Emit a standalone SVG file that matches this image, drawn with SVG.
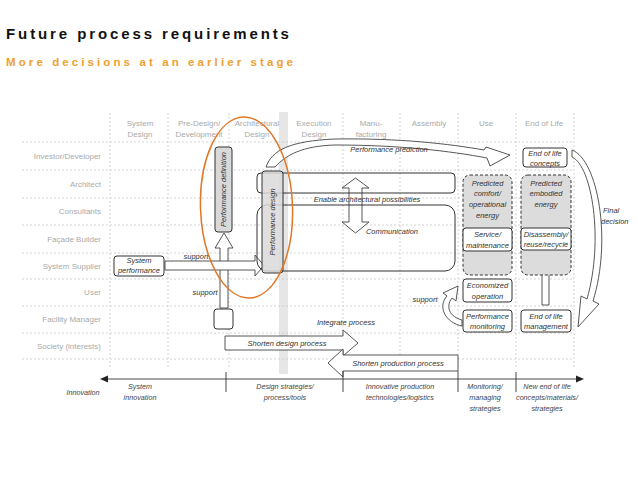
<svg xmlns="http://www.w3.org/2000/svg" width="638" height="479" viewBox="0 0 638 479">
<defs>
<style>
.title{font-family:"Liberation Sans",Arial,sans-serif;font-weight:bold;font-size:15px;letter-spacing:2.9px;fill:#111}
.sub{font-family:"Liberation Sans",Arial,sans-serif;font-weight:bold;font-size:11.5px;letter-spacing:3.1px;fill:#f0a030}
.hdr{font-family:"Liberation Sans",Arial,sans-serif;font-size:8px;fill:#aaa;text-anchor:middle}
.row{font-family:"Liberation Sans",Arial,sans-serif;font-size:8px;fill:#aaa;text-anchor:end}
.lbl{font-family:"Liberation Sans",Arial,sans-serif;font-style:italic;font-size:7.5px;fill:#333;text-anchor:middle}
.ax{font-family:"Liberation Sans",Arial,sans-serif;font-style:italic;font-size:7.2px;fill:#444;text-anchor:middle}
.grid{stroke:#c8c8c8;stroke-width:0.8;stroke-dasharray:2,2;fill:none}
.box{fill:#fff;stroke:#333;stroke-width:1}
.gbox{fill:#d9d9d9;stroke:#333;stroke-width:1}
.dbox{fill:#dcdcdc;stroke:#333;stroke-width:1;stroke-dasharray:3,2}
.harrow{fill:#fff;stroke:#444;stroke-width:0.9}
</style>
</defs>
<rect width="638" height="479" fill="#fff"/>
<text class="title" x="6" y="39">Future process requirements</text>
<text class="sub" x="6" y="66">More decisions at an earlier stage</text>

<g id="grid">
<rect x="279" y="112" width="9" height="262" fill="#e6e6e6"/>
<path class="grid" d="M22 142H574M22 170H574M22 198H574M22 225H574M22 253H574M22 279H574M22 306H574M22 333H574M22 359H574"/>
<path class="grid" d="M110 113V368M168 113V368M229 113V368M343 113V368M400 113V368M458 113V368M516 113V368M574 113V368"/>
</g>

<g id="headers">
<text class="hdr" x="140" y="126">System</text><text class="hdr" x="140" y="137">Design</text>
<text class="hdr" x="199" y="126">Pre-Design/</text><text class="hdr" x="199" y="137">Development</text>
<text class="hdr" x="257" y="126">Architectural</text><text class="hdr" x="257" y="137">Design</text>
<text class="hdr" x="314" y="126">Execution</text><text class="hdr" x="314" y="137">Design</text>
<text class="hdr" x="371" y="126">Manu-</text><text class="hdr" x="371" y="137">facturing</text>
<text class="hdr" x="429" y="126">Assembly</text>
<text class="hdr" x="486" y="126">Use</text>
<text class="hdr" x="544" y="126">End of Life</text>
</g>

<g id="rows">
<text class="row" x="101" y="159">Investor/Developer</text>
<text class="row" x="101" y="187">Architect</text>
<text class="row" x="101" y="214">Consultants</text>
<text class="row" x="101" y="242">Façade Builder</text>
<text class="row" x="101" y="269">System Supplier</text>
<text class="row" x="101" y="295">User</text>
<text class="row" x="101" y="322">Facility Manager</text>
<text class="row" x="101" y="349">Society (interests)</text>
</g>

<g id="connectors">
<path class="harrow" d="M266,167 C272,150 290,141 335,139 C400,138 450,144 484,150 L486,147 L510,155 L490,166 L487,158 C450,151 400,145 335,145 C302,146 286,155 275,167 Z"/>
<path class="harrow" d="M572,150 C598,160 612,240 593,301 L599,304 L578,327 L581,296 L587,299 C604,240 592,166 572,157 Z"/>
<path class="harrow" d="M220,308 L220,248 L215,248 L224,233 L233,248 L228,248 L228,308 Z"/>
<path class="harrow" d="M165,261 L255,261 L255,255 L264,265.5 L255,276 L255,270 L165,270 Z"/>
<path class="harrow" d="M349,188 L342,188 L355.5,178 L369,188 L362,188 L362,222 L369,222 L355.5,233 L342,222 L349,222 Z"/>
<path class="harrow" d="M542,305 L542,262 L536,262 L545.5,252 L555,262 L549,262 L549,305 Z"/>
<path class="harrow" d="M462,326 C446,323 437,307 447,296 L443,293 L458,286 L456,301 L452,298 C445,307 450,317 462,320 Z"/>
<path class="harrow" d="M225,336 L343,336 L343,330 L358,343 L343,356 L343,350 L225,350 Z"/>
<path class="harrow" d="M458,355 L343,355 L343,349 L328,363 L343,377 L343,371 L458,371 Z"/>
<g stroke="#333" stroke-width="0.9" fill="none">
<path d="M106,379H578"/>
<path d="M226,372V392M343,371V392M458,371V392M516,372V392"/>
</g>
<path d="M100,379 L108,375.5 L108,382.5 Z" fill="#222"/>
<path d="M584,379 L576,375.5 L576,382.5 Z" fill="#222"/>
</g>

<g id="enable">
<rect class="box" x="257" y="173" width="198" height="20" rx="4" style="fill:none"/>
<text class="lbl" x="367" y="202">Enable architectural possibilities</text>
</g>
<g id="communication">
<rect class="box" x="257" y="205" width="198" height="66" rx="10" style="fill:none"/>
<text class="lbl" x="392" y="234">Communication</text>
</g>

<g id="perf-definition">
<rect class="gbox" x="215" y="147" width="17" height="85" rx="3"/>
<text class="lbl" transform="translate(226,189.5) rotate(-90)">Performance definition</text>
</g>
<g id="perf-design">
<rect class="gbox" x="262" y="171" width="21" height="102" rx="3" style="fill-opacity:0.85"/>
<text class="lbl" transform="translate(275,222) rotate(-90)">Performance design</text>
</g>
<g id="small-box">
<rect class="box" x="214" y="309" width="19" height="20" rx="3"/>
</g>
<g id="system-performance">
<rect class="box" x="114" y="256" width="50" height="20" rx="3"/>
<text class="lbl" x="139" y="263">System</text>
<text class="lbl" x="139" y="273">performance</text>
</g>

<g id="labels">
<text class="lbl" x="196" y="259">support</text>
<text class="lbl" x="205" y="295">support</text>
<text class="lbl" x="425" y="302">support</text>
<text class="lbl" x="389" y="152">Performance prediction</text>
<text class="lbl" x="346" y="325">Integrate process</text>
<text class="lbl" x="287" y="346">Shorten design process</text>
<text class="lbl" x="398" y="366">Shorten production process</text>
<text class="lbl" x="603" y="213" style="text-anchor:start">Final</text>
<text class="lbl" x="601" y="224" style="text-anchor:start">decision</text>
</g>

<g id="predicted-comfort">
<rect class="dbox" x="463" y="175" width="49" height="100" rx="7"/>
<text class="lbl" x="487.5" y="186">Predicted</text>
<text class="lbl" x="487.5" y="196">comfort/</text>
<text class="lbl" x="487.5" y="207">operational</text>
<text class="lbl" x="487.5" y="218">energy</text>
</g>
<g id="predicted-embodied">
<rect class="dbox" x="521" y="175" width="50" height="100" rx="7"/>
<text class="lbl" x="546" y="186">Predicted</text>
<text class="lbl" x="546" y="196">embodied</text>
<text class="lbl" x="546" y="207">energy</text>
</g>
<g id="service">
<rect class="box" x="463" y="228" width="49" height="23" rx="3"/>
<text class="lbl" x="487.5" y="237">Service/</text>
<text class="lbl" x="487.5" y="248">maintenance</text>
</g>
<g id="disassembly">
<rect class="box" x="521" y="228" width="50" height="22" rx="3"/>
<text class="lbl" x="546" y="237">Disassembly/</text>
<text class="lbl" x="546" y="247">reuse/recycle</text>
</g>
<g id="eol-concepts">
<rect class="box" x="523" y="148" width="44" height="19" rx="3"/>
<text class="lbl" x="545" y="156">End of life</text>
<text class="lbl" x="545" y="166">concepts</text>
</g>
<g id="economized">
<rect class="box" x="463" y="279" width="49" height="23" rx="3"/>
<text class="lbl" x="487.5" y="288">Economized</text>
<text class="lbl" x="487.5" y="299">operation</text>
</g>
<g id="monitoring">
<rect class="box" x="463" y="310" width="49" height="22" rx="3"/>
<text class="lbl" x="487.5" y="319">Performance</text>
<text class="lbl" x="487.5" y="329">monitoring</text>
</g>
<g id="eol-management">
<rect class="box" x="521" y="310" width="50" height="22" rx="3"/>
<text class="lbl" x="546" y="319">End of life</text>
<text class="lbl" x="546" y="329">management</text>
</g>

<g id="highlight">
<ellipse cx="246.5" cy="207.5" rx="46" ry="90.5" transform="rotate(-2 246.5 207.5)" fill="none" stroke="#e07828" stroke-width="1.5"/>
</g>

<g id="axis-labels">
<text class="ax" x="83" y="395">Innovation</text>
<text class="ax" x="140" y="389">System</text><text class="ax" x="140" y="400">innovation</text>
<text class="ax" x="285" y="389">Design strategies/</text><text class="ax" x="285" y="400">process/tools</text>
<text class="ax" x="400" y="389">Innovative production</text><text class="ax" x="400" y="400">technologies/logistics</text>
<text class="ax" x="485" y="389">Monitoring/</text><text class="ax" x="485" y="400">managing</text><text class="ax" x="485" y="411">strategies</text>
<text class="ax" x="547" y="389">New end of life</text><text class="ax" x="547" y="400">concepts/materials/</text><text class="ax" x="547" y="411">strategies</text>
</g>
</svg>
